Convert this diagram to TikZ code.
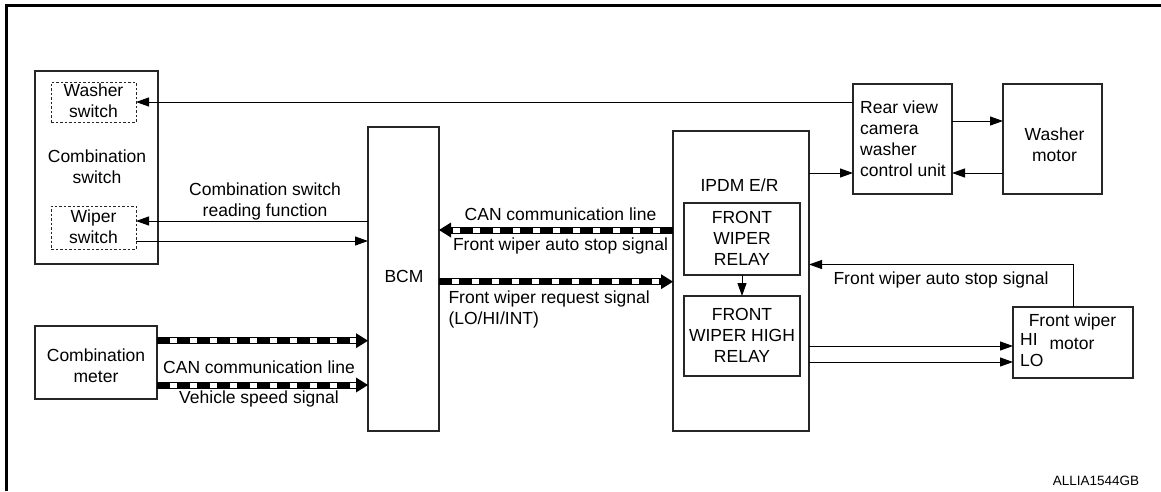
\documentclass[tikz,border=0pt]{standalone}
\usepackage{fontspec}
\setmainfont{Liberation Sans}
\usetikzlibrary{arrows.meta}
\newcommand\canline[2]{\draw[can] #1 -- #2; \draw[canw] #1 -- #2;}
\begin{document}
\begin{tikzpicture}[x=1pt,y=-1pt,
  box/.style={draw=black!85, line width=1.3pt, inner sep=0pt, outer sep=0pt},
  dbox/.style={draw=black!85, line width=0.9pt, dash pattern=on 2.5pt off 2pt, inner sep=0pt, outer sep=0pt},
  txt/.style={font=\fontsize{17.5}{21}\selectfont, inner sep=0pt, align=center},
  sig/.style={line width=1pt, -{Triangle[length=13pt,width=9pt]}},
  can/.style={line width=7pt, -{Triangle[length=12pt,width=15pt,line width=0pt]}},
  canw/.style={white, line width=5pt, dash pattern=on 7pt off 13pt, dash phase=7pt, shorten >=12pt}
]
\useasboundingbox (0,0) rectangle (1161,491);
% frame
\draw[line width=3pt] (1161,5) -- (6,5) -- (6,491);

% boxes
\node[box, minimum width=123pt, minimum height=193pt] (csw) at (96.5,167.5) {};
\node[dbox, minimum width=85pt, minimum height=40pt] (wash) at (93.5,102) {};
\node[dbox, minimum width=85pt, minimum height=43pt] (wipe) at (93.5,227.5) {};
\node[box, minimum width=122pt, minimum height=73pt] (meter) at (96,362.5) {};
\node[box, minimum width=71pt, minimum height=304pt] (bcm) at (403.5,279) {};
\node[box, minimum width=136pt, minimum height=300pt] (ipdm) at (741,281) {};
\node[box, minimum width=116pt, minimum height=72pt] (relay) at (742,239) {};
\node[box, minimum width=116pt, minimum height=80pt] (hrelay) at (742,336) {};
\node[box, minimum width=99pt, minimum height=110pt] (rvc) at (902.5,139) {};
\node[box, minimum width=99pt, minimum height=110pt] (wm) at (1052.5,139) {};
\node[box, minimum width=120pt, minimum height=71pt] (fwm) at (1073,342.5) {};

% texts
\node[txt] (tcsw) at (97,167.1) {Combination\\switch};
\node[txt] (twash) at (93.5,100.8) {Washer\\switch};
\node[txt] (twipe) at (93.5,226.8) {Wiper\\switch};
\node[txt] (tmeter) at (96,365.6) {Combination\\meter};
\node[txt] (tread) at (265,201.5) {Combination switch\\reading function};
\node[txt] (tcan1) at (259,367.4) {CAN communication line};
\node[txt] (tvss) at (259,398.7) {Vehicle speed signal};
\node[txt] (tbcm) at (404,276.75) {BCM};
\node[txt] (tcan2) at (560.5,214.3) {CAN communication line};
\node[txt] (tfwas) at (560.5,245.7) {Front wiper auto stop signal};
\node[txt, align=left, anchor=west] (treq) at (448.3,309.25) {Front wiper request signal\\(LO/HI/INT)};
\node[txt] (tipdm) at (739.5,185.25) {IPDM E/R};
\node[txt] (trelay) at (742,238.25) {FRONT\\WIPER\\RELAY};
\node[txt] (threlay) at (742,335.5) {FRONT\\WIPER HIGH\\RELAY};
\node[txt, align=left, anchor=west] (trvc) at (860,138.25) {Rear view\\camera\\washer\\control unit};
\node[txt] (twm) at (1054.5,144.25) {Washer\\motor};
\node[txt] (tfwas2) at (941,280.45) {Front wiper auto stop signal};
\node[txt] (tfw) at (1072.5,322.45) {Front wiper};
\node[txt, anchor=west] (thi) at (1020,339.75) {HI};
\node[txt, anchor=west] (tlo) at (1020,360.25) {LO};
\node[txt] (tmotor) at (1072,344.2) {motor};
\node[txt, font=\fontsize{13.5}{16}\selectfont] (tid) at (1096,480.8) {ALLIA1544GB};

% connectors
\draw[sig] (rvc.west |- wash.east) -- (wash.east);
\draw[sig] (bcm.west |- 0,221) -- (wipe.east |- 0,221);
\draw[sig] (wipe.east |- 0,241) -- (bcm.west |- 0,241);
\canline{(meter.east |- 0,340.7)}{(bcm.west |- 0,340.7)}
\canline{(meter.east |- 0,385)}{(bcm.west |- 0,385)}
\canline{(ipdm.west |- 0,230)}{(bcm.east |- 0,230)}
\canline{(bcm.east |- 0,281.7)}{(ipdm.west |- 0,281.7)}
\draw[sig] (ipdm.east |- 0,173) -- (rvc.west |- 0,173);
\draw[sig] (rvc.east |- 0,121) -- (wm.west |- 0,121);
\draw[sig] (wm.west |- 0,173) -- (rvc.east |- 0,173);
\draw[sig] (relay.south) -- (hrelay.north);
\draw[sig] (fwm.north) |- (ipdm.east |- 0,264.5);
\draw[sig] (ipdm.east |- 0,346) -- (fwm.west |- 0,346);
\draw[sig] (ipdm.east |- 0,362) -- (fwm.west |- 0,362);
\end{tikzpicture}
\end{document}
